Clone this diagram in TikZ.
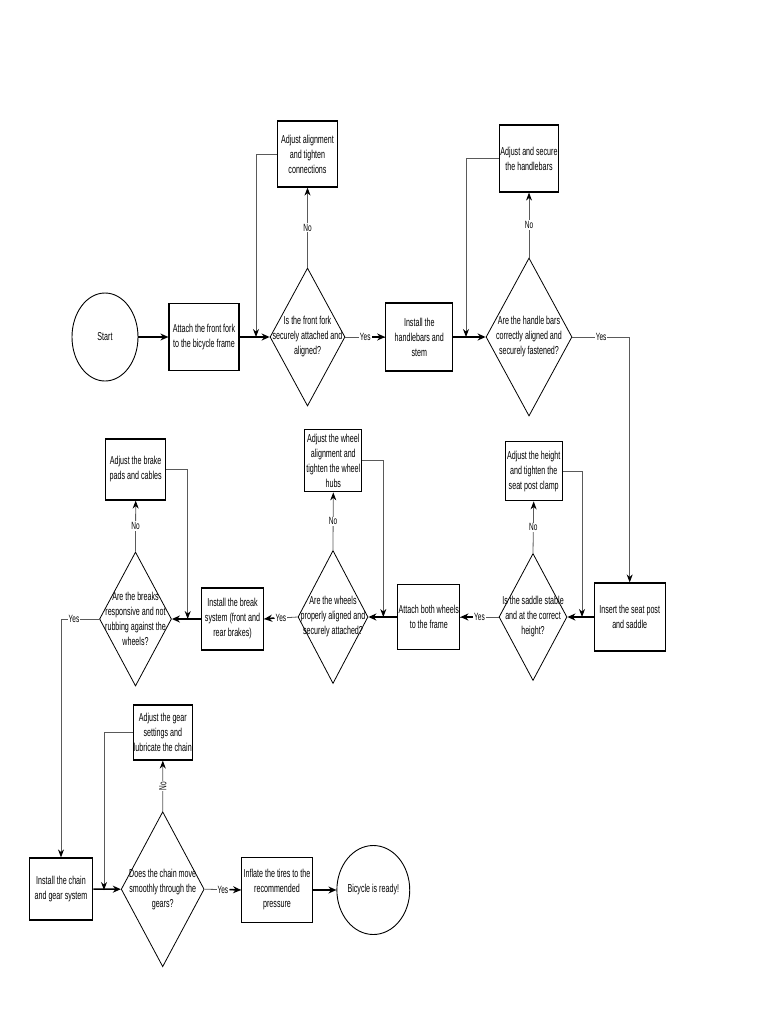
\documentclass[tikz,border=0pt]{standalone}
\usepackage{fontspec}
\newfontfamily\cf[FakeStretch=0.62]{Liberation Sans}
\usetikzlibrary{shapes.geometric,arrows.meta}
\definecolor{fbgray}{HTML}{5A5A5A}
\begin{document}
\begin{tikzpicture}[x=1pt,y=-1pt,
  every node/.style={font=\cf\fontsize{11.5}{15}\selectfont, align=center, inner sep=0pt},
  wh/.style 2 args={minimum width=#1pt, minimum height=#2pt},
  box/.style={draw, line width=1.2pt},
  dia/.style={draw, diamond, line width=0.8pt},
  ell/.style={draw, ellipse, line width=0.9pt},
  flow/.style={line width=1.5pt, -{Stealth[length=8pt,width=7pt]}},
  fbk/.style={draw=fbgray, line width=0.8pt, -{Stealth[length=8pt,width=6pt,black]}},
  thin/.style={draw=fbgray, line width=0.8pt},
  lbl/.style={fill=white, inner sep=1pt, font=\cf\fontsize{10.5}{12}\selectfont}]
\useasboundingbox (0,0) rectangle (768,1024);

% ---------- row 1 ----------
\node[ell, wh={66}{88}] (start) at (105,337) {Start};
\node[box, wh={70}{67}] (attach) at (204,337) {Attach the front fork\\to the bicycle frame};
\node[dia, wh={75}{138}] (d1) at (307.5,337) {};
\node (d1t) at (d1) {Is the front fork\\securely attached and\\aligned?};
\node[box, wh={60}{66}] (adj1) at (307.5,154) {Adjust alignment\\and tighten\\connections};
\node[box, wh={67}{68}] (install) at (419.3,337) {Install the\\handlebars and\\stem};
\node[dia, wh={86}{158}] (d2) at (529,337) {};
\node (d2t) at (d2) {Are the handle bars\\correctly aligned and\\securely fastened?};
\node[box, wh={59}{67}] (adj2) at (529,158.5) {Adjust and secure\\the handlebars};

% ---------- row 2 ----------
\node[box, wh={71}{68}] (insert) at (629.7,617) {Insert the seat post\\and saddle};
\node[dia, wh={68}{127}] (d3) at (533,617) {};
\node (d3t) at (d3) {Is the saddle stable\\and at the correct\\height?};
\node[box, wh={57}{59}] (adj3) at (533.7,471.3) {Adjust the height\\and tighten the\\seat post clamp};
\node[box, wh={62}{65}] (attachw) at (428.8,617) {Attach both wheels\\to the frame};
\node[dia, wh={70}{133}] (d4) at (333,617) {};
\node (d4t) at (d4) {Are the wheels\\properly aligned and\\securely attached?};
\node[box, wh={57}{62}] (adj4) at (333.3,460.8) {Adjust the wheel\\alignment and\\tighten the wheel\\hubs};
\node[box, wh={62}{62}] (brk) at (232.5,619) {Install the break\\system (front and\\rear brakes)};
\node[dia, wh={72}{134}] (d5) at (135.5,619) {};
\node (d5t) at (d5) {Are the breaks\\responsive and not\\rubbing against the\\wheels?};
\node[box, wh={60}{61}] (adj5) at (135.7,469.5) {Adjust the brake\\pads and cables};

% ---------- row 3 ----------
\node[box, wh={63.4}{62}] (chain) at (61,889) {Install the chain\\and gear system};
\node[dia, wh={83}{155}] (d6) at (162.7,889.2) {};
\node (d6t) at (d6) {Does the chain move\\smoothly through the\\gears?};
\node[box, wh={59}{55}] (adj6) at (162.8,732.5) {Adjust the gear\\settings and\\lubricate the chain};
\node[box, wh={70.6}{65.6}] (inflate) at (277,890) {Inflate the tires to the\\recommended\\pressure};
\node[ell, wh={63.3}{89}] (ready) at (373.3,890) {Bicycle is ready!};

% ---------- feedback targets ----------
\coordinate (m1) at (256,337);
\coordinate (m2) at (466,337);
\coordinate (m3) at (582,617);
\coordinate (m4) at (383.3,617);
\coordinate (m5) at (187.7,619);
\coordinate (m6) at (104,890);

% ---------- main flow ----------
\draw[flow] (start) -- (attach);
\draw[flow] (attach) -- (d1.west);
\draw[thin] (d1.east) -- node[lbl] (y1) {Yes} (install.west);
\draw[flow] (y1.east) -- (install.west);
\draw[flow] (install) -- (d2.west);
\draw[thin, -{Stealth[length=8pt,width=6pt,black]}] (d2.east) -| node[lbl, pos=0.25] (y2) {Yes} (insert.north);
\draw[flow] (insert) -- (d3.east);
\draw[thin] (d3.west) -- node[lbl] (y3) {Yes} (attachw.east);
\draw[flow] (y3.west) -- (attachw.east);
\draw[flow] (attachw) -- (d4.east);
\draw[thin] (d4.west) -- node[lbl] (y4) {Yes} (brk.east);
\draw[flow] (y4.west) -- (brk.east);
\draw[flow] (brk) -- (d5.east);
\draw[thin, -{Stealth[length=8pt,width=6pt,black]}] (d5.west) -| node[lbl, pos=0.33] (y5) {Yes} (chain.north);
\draw[flow] (chain) -- (d6.west);
\draw[thin] (d6.east) -- node[lbl] (y6) {Yes} (inflate.west);
\draw[flow] (y6.east) -- (inflate.west);
\draw[flow] (inflate) -- (ready);

% ---------- No branches ----------
\draw[fbk] (d1.north) -- node[lbl] (n1) {No} (adj1.south);
\draw[fbk] (d2.north) -- node[lbl] (n2) {No} (adj2.south);
\draw[fbk] (d3.north) -- node[lbl] (n3) {No} (adj3.south);
\draw[fbk] (d4.north) -- node[lbl] (n4) {No} (adj4.south);
\draw[fbk] (d5.north) -- node[lbl] (n5) {No} (adj5.south);
\draw[fbk] (d6.north) -- node[lbl, rotate=90] (n6) {No} (adj6.south);

% ---------- feedback loops ----------
\draw[fbk] (adj1.west) -| (m1);
\draw[fbk] (adj2.west) -| (m2);
\draw[fbk] (adj3.east) -| (m3);
\draw[fbk] (adj4.east) -| (m4);
\draw[fbk] (adj5.east) -| (m5);
\draw[fbk] (adj6.west) -| (m6);
\end{tikzpicture}
\end{document}
